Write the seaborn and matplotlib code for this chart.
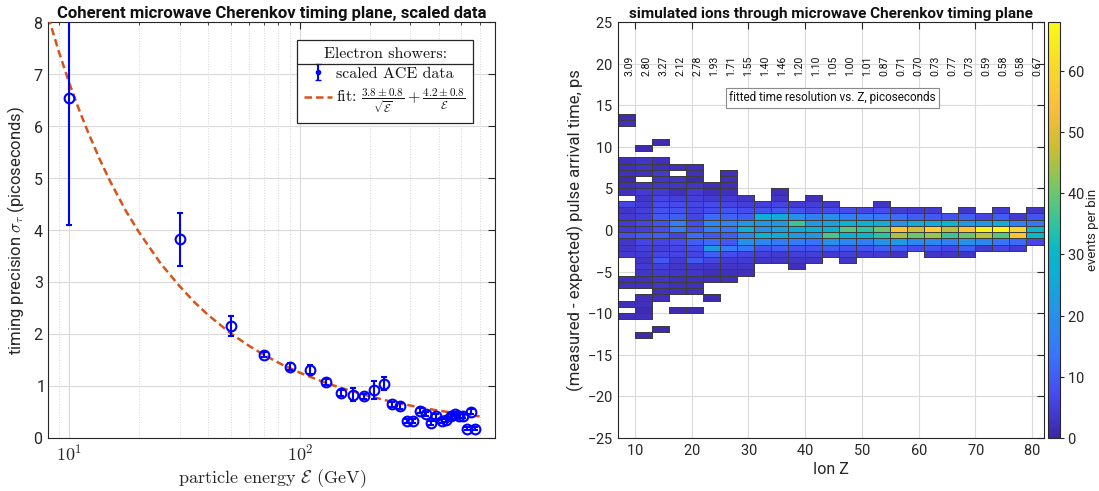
import numpy as np
import pandas as pd
import matplotlib
matplotlib.use("Agg")
import matplotlib.pyplot as plt
import seaborn as sns
from matplotlib.colors import LinearSegmentedColormap
from matplotlib.lines import Line2D


# ── Left panel: scaled ACE electron-shower data ──────────────────────────────

energy_gev = [10, 30, 50, 70, 90, 110, 130, 150, 170, 190, 210, 230, 250, 270,
              290, 310, 330, 350, 370, 390, 410, 430, 450, 470, 490, 510, 530,
              550, 570]
sigma_ps = [6.55, 3.82, 2.15, 1.60, 1.37, 1.31, 1.08, 0.86, 0.83, 0.80, 0.92,
            1.04, 0.64, 0.61, 0.33, 0.32, 0.52, 0.45, 0.29, 0.41, 0.32, 0.35,
            0.41, 0.46, 0.42, 0.42, 0.17, 0.50, 0.17]
sigma_err = [2.45, 0.51, 0.20, 0.05, 0.06, 0.09, 0.06, 0.06, 0.13, 0.05, 0.17,
             0.13, 0.05, 0.05, 0.04, 0.04, 0.05, 0.04, 0.04, 0.04, 0.04, 0.04,
             0.04, 0.04, 0.04, 0.04, 0.03, 0.05, 0.03]

# fit curve
fit_energy = [8.1, 9, 10, 11, 12, 13.5, 15, 17.5, 20, 25, 30, 35, 40, 50, 60,
              70, 85, 100, 125, 150, 200, 250, 300, 400, 500, 600]
fit_sigma = [8.10, 7.43, 6.82, 6.32, 5.90, 5.37, 4.94, 4.38, 3.96, 3.34, 2.92,
             2.60, 2.36, 2.01, 1.77, 1.59, 1.39, 1.25, 1.08, 0.96, 0.80, 0.69,
             0.62, 0.52, 0.46, 0.41]

# ── Right panel: simulated ions ──────────────────────────────────────────────

ion_z = [9, 12, 15, 18, 21, 24, 27, 30, 33, 36, 39, 42, 45, 48, 51, 54, 57,
         60, 63, 66, 69, 72, 75, 78, 81]
fit_res_ps = [3.09, 2.80, 3.27, 2.12, 2.78, 1.93, 1.71, 1.55, 1.40, 1.46, 1.20,
              1.10, 1.05, 1.00, 1.01, 0.87, 0.71, 0.70, 0.73, 0.77, 0.73, 0.59,
              0.58, 0.58, 0.67]

# time bins are 0.75 ps wide starting at -13 ps; index of lowest filled bin per Z
low_bin = [3, 0, 1, 4, 4, 6, 9, 10, 12, 12, 11, 12, 13, 12, 13, 13, 13, 14,
           13, 13, 13, 14, 14, 14, 15]
# events per bin, from the lowest filled bin upward
events = [
    [2, 0, 2, 0, 0, 2, 2, 0, 0, 0, 4, 3, 3, 7, 4, 4, 4, 3, 6, 0, 2, 2, 1, 2, 2, 2,
     0, 0, 0, 0, 0, 2, 1],
    [1, 0, 0, 2, 1, 2, 2, 0, 2, 2, 3, 4, 3, 4, 5, 6, 9, 5, 6, 5, 5, 4, 3, 4, 3, 0,
     2, 3, 3, 0, 1],
    [1, 0, 0, 0, 0, 2, 2, 3, 3, 4, 5, 9, 6, 5, 6, 10, 7, 8, 9, 8, 7, 6, 4, 3, 3, 4,
     2, 2, 0, 0, 1],
    [1, 0, 0, 2, 2, 2, 3, 3, 4, 6, 6, 7, 6, 15, 16, 10, 8, 7, 5, 2, 3, 3, 0, 2],
    [1, 0, 0, 2, 2, 2, 3, 3, 9, 6, 7, 10, 12, 8, 7, 6, 6, 6, 5, 4, 3, 1, 2, 2],
    [1, 0, 0, 2, 2, 3, 6, 10, 22, 12, 9, 16, 18, 12, 7, 7, 4, 2, 2],
    [2, 2, 3, 4, 7, 15, 9, 10, 14, 17, 11, 8, 6, 4, 2, 2, 2, 2],
    [2, 3, 4, 6, 14, 20, 18, 28, 22, 10, 7, 5, 3],
    [3, 5, 8, 18, 28, 20, 22, 27, 8, 5],
    [3, 4, 10, 15, 26, 24, 22, 26, 9, 6, 3, 2],
    [2, 3, 5, 8, 15, 22, 26, 36, 20, 8, 4],
    [3, 5, 8, 13, 22, 27, 22, 16, 6, 5, 2],
    [4, 10, 20, 37, 28, 24, 20, 7, 4],
    [3, 5, 8, 18, 27, 38, 28, 16, 7],
    [4, 8, 16, 30, 35, 28, 15, 6],
    [4, 10, 20, 34, 40, 27, 14, 7, 3],
    [3, 9, 22, 45, 56, 20, 12, 4],
    [7, 18, 40, 48, 26, 10, 4],
    [3, 8, 18, 44, 58, 26, 9, 4],
    [3, 6, 16, 36, 46, 30, 8],
    [3, 10, 20, 40, 56, 22, 10, 3],
    [4, 18, 46, 66, 22, 6],
    [6, 14, 38, 67, 26, 10, 4],
    [4, 12, 56, 60, 16, 4],
    [6, 30, 30, 14, 8, 3],
]

# approximation of MATLAB's parula
parula = LinearSegmentedColormap.from_list("parula", [
    (0.00, (0.2422, 0.1504, 0.6603)),
    (0.10, (0.2780, 0.2900, 0.9300)),
    (0.20, (0.2200, 0.4600, 0.9900)),
    (0.30, (0.1500, 0.5700, 0.9100)),
    (0.40, (0.0500, 0.6900, 0.8300)),
    (0.45, (0.0300, 0.7200, 0.7800)),
    (0.50, (0.1500, 0.7600, 0.6600)),
    (0.60, (0.4500, 0.7800, 0.4000)),
    (0.70, (0.8000, 0.7400, 0.2000)),
    (0.80, (0.9900, 0.7400, 0.2400)),
    (0.90, (0.9700, 0.8600, 0.1600)),
    (1.00, (0.9769, 0.9839, 0.0805)),
])

# ── Style ─────────────────────────────────────────────────────────────────────

sns.set_style("white")
plt.rcParams["font.family"] = ["Roboto", "DejaVu Sans"]
plt.rcParams["mathtext.fontset"] = "cm"
plt.rcParams["axes.edgecolor"] = "#262626"
plt.rcParams["axes.linewidth"] = 0.8
plt.rcParams["xtick.color"] = "#262626"
plt.rcParams["ytick.color"] = "#262626"
plt.rcParams["text.color"] = "#111111"
plt.rcParams["axes.formatter.use_mathtext"] = True

AX_COLOR = "#262626"
GRID = "#dadada"
SERIF = "cmr10"   # Computer Modern, as in MATLAB's LaTeX interpreter

fig = plt.figure(figsize=(10.99, 4.91), dpi=100)
ax1 = fig.add_axes([0.0440, 0.1085, 0.4065, 0.8460])
ax2 = fig.add_axes([0.5623, 0.1085, 0.3872, 0.8460])
cax = fig.add_axes([0.9536, 0.1085, 0.0109, 0.8460])

# ── Left panel ───────────────────────────────────────────────────────────────

ax1.set_xscale("log")
fit_label = (r"fit: $\frac{3.8\pm0.8}{\sqrt{\mathcal{E}}}"
             r" + \frac{4.2\pm0.8}{\mathcal{E}}$")
sns.lineplot(x=fit_energy, y=fit_sigma, ax=ax1, color="#D95319",
             linestyle=(0, (3, 1.6)), linewidth=1.8, zorder=3)
ax1.errorbar(energy_gev, sigma_ps, yerr=sigma_err, fmt="o", ms=7, mfc="none",
             mec="blue", mew=1.5, ecolor="blue", elinewidth=1.5, capsize=2.2,
             capthick=1.3, zorder=4)

ax1.set_xlim(8.1, 700)
ax1.set_ylim(0, 8)
ax1.set_yticks(range(0, 9))
ax1.set_xticks([10, 100], [r"$\mathsf{10^{1}}$", r"$\mathsf{10^{2}}$"])
ax1.grid(True, which="major", color=GRID, lw=0.8)
ax1.grid(True, which="minor", axis="x", color="#d6d6d6", lw=0.7, ls=":")
ax1.set_axisbelow(True)
ax1.tick_params(which="both", direction="in", top=True, right=True,
                labelsize=11.5, colors=AX_COLOR)
ax1.tick_params(which="major", length=5)
ax1.tick_params(which="minor", length=2.5)
ax1.tick_params(axis="x", which="major", labelsize=13, pad=4)
ax1.set_title("Coherent microwave Cherenkov timing plane, scaled data",
              fontsize=12, fontweight="bold", pad=3)
ax1.set_ylabel(r"timing precision $\sigma_\tau$ (picoseconds)", fontsize=12,
               labelpad=4)
ax1.set_xlabel(r"particle energy $\mathcal{E}$ (GeV)", fontsize=13,
               family=SERIF, labelpad=2)

h_data = ax1.errorbar([np.nan], [np.nan], yerr=[np.nan], fmt="o", ms=3,
                      color="blue", elinewidth=1.5, capsize=2)
h_fit = Line2D([], [], color="#D95319", linestyle=(0, (3, 1.6)), lw=1.8)
leg = ax1.legend([h_data, h_fit], ["scaled ACE data", fit_label],
                 title="Electron showers:",
                 prop={"family": SERIF, "size": 11.5},
                 title_fontproperties={"family": SERIF, "size": 11.5},
                 loc="upper right", bbox_to_anchor=(0.951, 0.957),
                 borderaxespad=0, frameon=True, fancybox=False,
                 edgecolor="#262626", framealpha=1, handlelength=1.7,
                 handletextpad=0.3, borderpad=0.45, labelspacing=0.35)
leg.get_frame().set_linewidth(0.9)

# ── Right panel ──────────────────────────────────────────────────────────────

rows = []
for z, lo, col in zip(ion_z, low_bin, events):
    for i, n in enumerate(col):
        rows.append({"z": z, "dt": -13 + 0.75 * (lo + i) + 0.375, "n": n})
df = pd.DataFrame(rows)

z_edges = np.arange(7, 82.5, 3)
dt_edges = np.arange(-13, 14.01, 0.75)

sns.histplot(data=df, x="z", y="dt", weights="n", bins=(z_edges, dt_edges),
             cmap=parula, vmin=0, vmax=68, cbar=True, cbar_ax=cax, ax=ax2,
             linewidth=0.5)

# outline only the filled tiles
mesh = ax2.collections[0]
empty = np.ma.getmaskarray(mesh.get_array()).ravel()
edge = np.tile([0.24, 0.24, 0.24, 1.0], (empty.size, 1))
edge[empty] = (0, 0, 0, 0)
mesh.set_edgecolor(edge)

ax2.set_xlim(7, 82)
ax2.set_ylim(-25, 25)
ax2.set_xticks(range(10, 81, 10))
ax2.set_yticks(range(-25, 26, 5))
ax2.grid(True, color=GRID, lw=0.8)
ax2.set_axisbelow(True)
ax2.tick_params(direction="in", top=True, right=True, length=5,
                labelsize=10.5, colors=AX_COLOR)
ax2.set_title("simulated ions through microwave Cherenkov timing plane",
              fontsize=11, fontweight="bold", pad=3)
ax2.set_xlabel("Ion Z", fontsize=11.5, labelpad=3)
ax2.set_ylabel("(measured - expected) pulse arrival time, ps", fontsize=12,
               labelpad=2)

for z, res in zip(ion_z, fit_res_ps):
    ax2.text(z, 19.8, f"{res:.2f}", rotation=90, ha="center", va="center",
             fontsize=7.5, color="#111111")

ax2.text(26.6, 15.9, "fitted time resolution vs. Z, picoseconds", fontsize=8.5,
         ha="left", va="center",
         bbox=dict(boxstyle="square,pad=0.3", fc="white", ec="#8a8a8a", lw=0.8))

cax.set_yticks(range(0, 61, 10))
cax.tick_params(direction="out", length=3, labelsize=10.5, colors=AX_COLOR,
                pad=2)
cax.set_ylabel("events per bin", fontsize=9.5, labelpad=1)
for sp in cax.spines.values():
    sp.set_linewidth(0.8)

# separator between legend title and entries
fig.canvas.draw()
renderer = fig.canvas.get_renderer()
lb = leg.get_window_extent(renderer)
tb = leg.get_title().get_window_extent(renderer)
y_sep = tb.y0 - 3
inv = fig.transFigure.inverted()
(x0, y0), (x1, _) = inv.transform([(lb.x0, y_sep), (lb.x1, y_sep)])
fig.add_artist(Line2D([x0, x1], [y0, y0], color="#262626", lw=0.9))

fig.savefig("out.png", dpi=100)
